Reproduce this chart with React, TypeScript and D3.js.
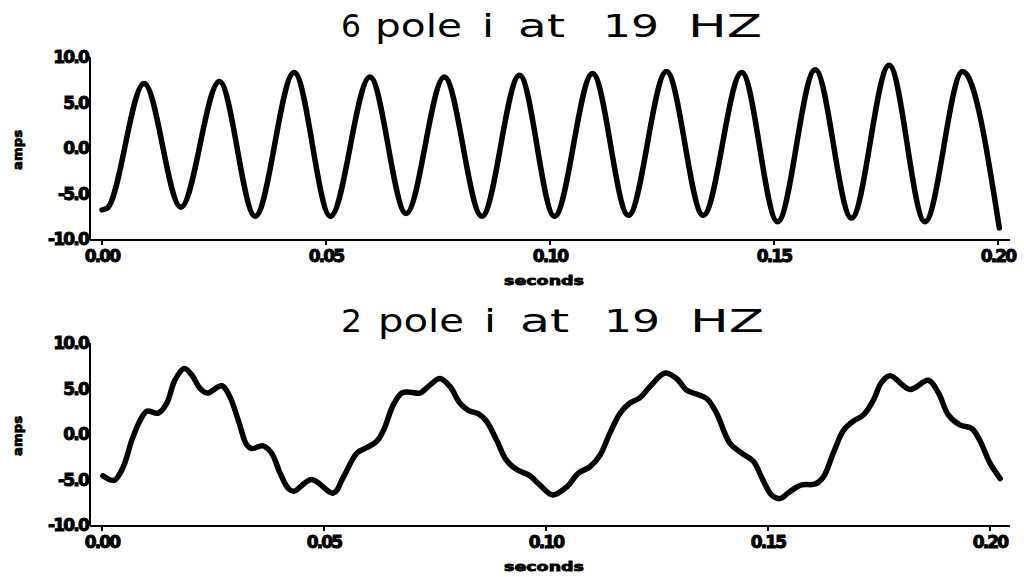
import React from "react";
import * as d3 from "d3";

// ---- data ----
const yTicks = [10, 5, 0, -5, -10];
const yTickLabels = ["10.0", "5.0", "0.0", "-5.0", "-10.0"];
const xTicks = [0, 0.05, 0.1, 0.15, 0.2];
const xTickLabels = ["0.00", "0.05", "0.10", "0.15", "0.20"];

const titleTopWords = ["6", "pole", "i", "at", "19", "HZ"];
const titleBottomWords = ["2", "pole", "i", "at", "19", "HZ"];
const xLabel = "seconds";
const yLabel = "amps";

// 6 pole current: time (s)
const sixPoleT = [
  0.0, 0.0012, 0.0094, 0.0176, 0.0262, 0.0342, 0.0429, 0.051, 0.0598, 0.0679,
  0.0764, 0.0848, 0.0932, 0.101, 0.1095, 0.1175, 0.126, 0.1342, 0.1428, 0.1508,
  0.1592, 0.1673, 0.1757, 0.1837, 0.1921, 0.2003,
];
// 6 pole current: amps
const sixPoleI = [
  -6.8, -6.6, 7.1, -6.5, 7.3, -7.5, 8.3, -7.5, 7.8, -7.2,
  7.8, -7.5, 8.0, -7.5, 8.2, -7.4, 8.4, -7.4, 8.3, -8.1,
  8.6, -7.7, 9.1, -8.1, 8.4, -8.8,
];

// 2 pole current: time (s)
const twoPoleT = [
  0.0002, 0.0027, 0.0048, 0.0067, 0.0086, 0.0101, 0.0127, 0.0146, 0.0164, 0.0185,
  0.0202, 0.0221, 0.0237, 0.027, 0.0288, 0.0307, 0.0326, 0.0337, 0.0363, 0.0382,
  0.0401, 0.042, 0.0432, 0.0472, 0.0521, 0.0544, 0.0574, 0.0596, 0.0619, 0.0634,
  0.0656, 0.0675, 0.0694, 0.0716, 0.0739, 0.0761, 0.0784, 0.0806, 0.0825, 0.0848,
  0.0866, 0.0889, 0.0911, 0.0934, 0.0964, 0.0986, 0.1015, 0.1047, 0.1073, 0.1099,
  0.1122, 0.1144, 0.1167, 0.1189, 0.1212, 0.1234, 0.1268, 0.1294, 0.1317, 0.1339,
  0.1362, 0.1384, 0.1414, 0.1441, 0.1467, 0.1489, 0.1508, 0.1527, 0.155, 0.1576,
  0.1606, 0.1625, 0.1647, 0.167, 0.1692, 0.1715, 0.1737, 0.1756, 0.1775, 0.182,
  0.1861, 0.1884, 0.1906, 0.1932, 0.1959, 0.1977, 0.2, 0.2023,
];
// 2 pole current: amps
const twoPoleI = [
  -4.6, -5.1, -3.6, -0.7, 1.5, 2.5, 2.3, 3.4, 5.9, 7.2,
  6.5, 5.0, 4.5, 5.3, 4.1, 1.5, -1.2, -1.6, -1.3, -2.1,
  -4.3, -6.0, -6.3, -5.0, -6.5, -4.7, -2.1, -1.5, -0.8, 0.4,
  3.2, 4.5, 4.6, 4.5, 5.4, 6.1, 5.2, 3.4, 2.6, 2.2,
  1.4, -0.7, -2.9, -3.9, -4.6, -5.6, -6.7, -5.8, -4.3, -3.6,
  -2.3, 0.1, 2.3, 3.4, 4.0, 5.2, 6.7, 6.1, 4.8, 4.4,
  3.9, 2.3, -1.0, -2.1, -3.0, -5.1, -6.7, -7.1, -6.3, -5.6,
  -5.5, -4.7, -2.1, 0.4, 1.4, 2.1, 3.7, 5.7, 6.4, 4.9,
  5.9, 4.5, 2.1, 1.0, 0.6, -0.7, -3.2, -4.9,
];

type Panel = {
  words: string[];
  wordX: number[];
  wordW: number[];
  titleY: number;
  t: number[];
  v: number[];
  x0: number;
  x1: number;
  yTop: number;
  yBot: number;
  curve: d3.CurveFactory;
};

const labelFont = "'DejaVu Sans', sans-serif";

function PanelView({ p }: { p: Panel }) {
  const x = d3.scaleLinear().domain([0, 0.2]).range([p.x0, p.x1]);
  const y = d3.scaleLinear().domain([-10, 10]).range([p.yBot, p.yTop]);
  const pts = p.t.map((t, i) => [t, p.v[i]] as [number, number]);
  const line = d3
    .line<[number, number]>()
    .x((d) => x(d[0]))
    .y((d) => y(d[1]))
    .curve(p.curve);
  const axisX = 90;
  const axisY = y(-10) + 1;
  return (
    <g>
      {p.words.map((w, i) => (
        <text
          key={"w" + i}
          x={p.wordX[i]}
          y={p.titleY}
          fontFamily={labelFont}
          fontSize={32}
          textLength={p.wordW[i]}
          lengthAdjust="spacingAndGlyphs"
          fill="#000"
        >
          {w}
        </text>
      ))}
      {/* y axis */}
      <line x1={axisX} x2={axisX} y1={y(10)} y2={axisY} stroke="#000" strokeWidth={2} />
      {yTicks.map((v, i) => (
        <g key={"y" + i}>
          <line x1={axisX - 4} x2={axisX} y1={y(v)} y2={y(v)} stroke="#000" strokeWidth={2} />
          <text
            x={axisX - 2}
            y={y(v)}
            dy="0.36em"
            textAnchor="end"
            fontFamily={labelFont}
            fontWeight="bold"
            fontSize={17}
            letterSpacing={-1.8}
            stroke="#000"
            strokeWidth={1}
            fill="#000"
          >
            {yTickLabels[i]}
          </text>
        </g>
      ))}
      {/* x axis */}
      <line x1={axisX} x2={1010} y1={axisY} y2={axisY} stroke="#000" strokeWidth={2} />
      {xTicks.map((t, i) => (
        <g key={"x" + i}>
          <line x1={x(t)} x2={x(t)} y1={axisY} y2={axisY + 5} stroke="#000" strokeWidth={2} />
          <text
            x={x(t)}
            y={axisY + 22}
            textAnchor="middle"
            fontFamily={labelFont}
            fontWeight="bold"
            fontSize={17}
            letterSpacing={-1.8}
            stroke="#000"
            strokeWidth={1}
            fill="#000"
          >
            {xTickLabels[i]}
          </text>
        </g>
      ))}
      <text
        x={544}
        y={axisY + 45}
        textAnchor="middle"
        fontFamily={labelFont}
        fontWeight="bold"
        fontSize={13}
        textLength={80}
        lengthAdjust="spacingAndGlyphs"
        stroke="#000"
        strokeWidth={0.8}
        fill="#000"
      >
        {xLabel}
      </text>
      <text
        transform={`translate(22,${y(0) + 2}) rotate(-90)`}
        textAnchor="middle"
        fontFamily={labelFont}
        fontWeight="bold"
        fontSize={13}
        textLength={40}
        lengthAdjust="spacingAndGlyphs"
        stroke="#000"
        strokeWidth={0.8}
        fill="#000"
      >
        {yLabel}
      </text>
      <path
        d={line(pts) || ""}
        fill="none"
        stroke="#000"
        strokeWidth={5.5}
        strokeLinejoin="round"
        strokeLinecap="round"
      />
    </g>
  );
}

export default function App() {
  const panels: Panel[] = [
    {
      words: titleTopWords,
      wordX: [341, 375, 482, 518, 603, 688],
      wordW: [20, 87, 12, 47, 56, 74],
      titleY: 37,
      t: sixPoleT,
      v: sixPoleI,
      x0: 102,
      x1: 998,
      yTop: 57,
      yBot: 239,
      curve: d3.curveMonotoneX,
    },
    {
      words: titleBottomWords,
      wordX: [341, 378, 484, 520, 604, 690],
      wordW: [21, 86, 12, 49, 56, 74],
      titleY: 332,
      t: twoPoleT,
      v: twoPoleI,
      x0: 102,
      x1: 990,
      yTop: 343,
      yBot: 525,
      curve: d3.curveCatmullRom.alpha(0.5),
    },
  ];
  return (
    <svg
      width={1024}
      height={577}
      style={{ position: "absolute", left: 0, top: 0, background: "#fff" }}
    >
      <rect width={1024} height={577} fill="#fff" />
      {panels.map((p, i) => (
        <PanelView key={i} p={p} />
      ))}
    </svg>
  );
}
